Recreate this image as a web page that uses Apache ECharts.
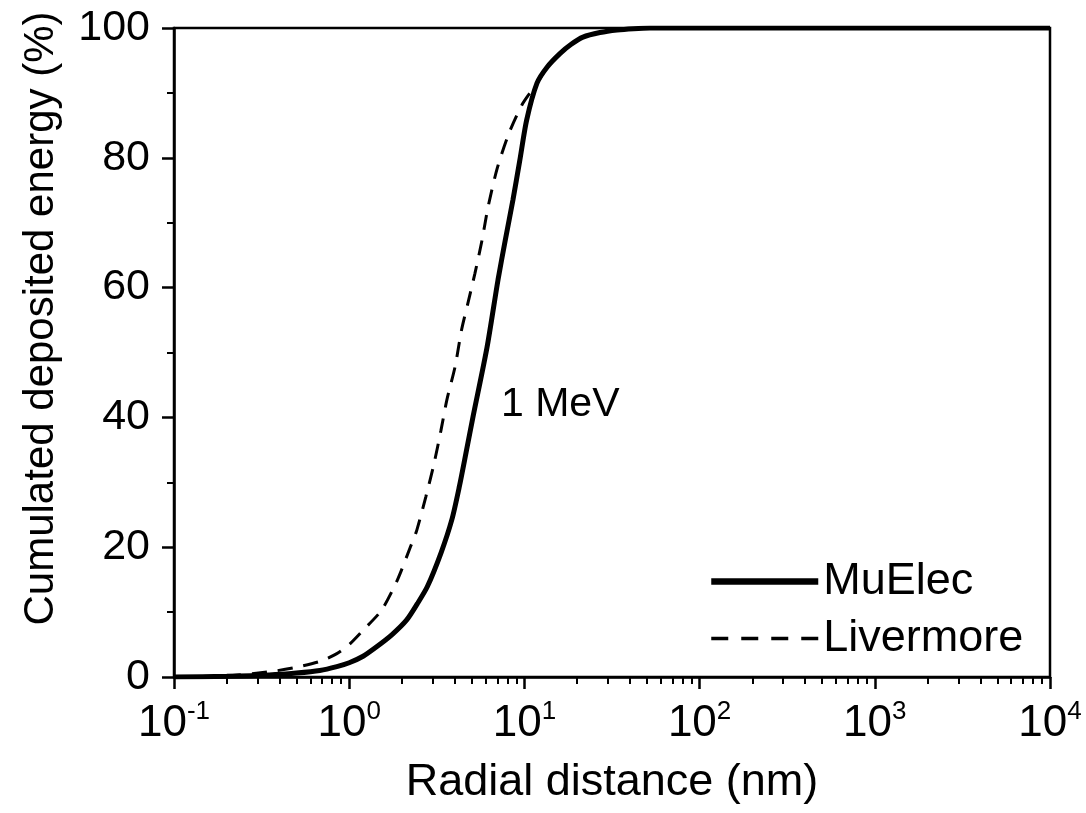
<!DOCTYPE html>
<html><head><meta charset="utf-8">
<script src="https://cdn.jsdelivr.net/npm/echarts@6/dist/echarts.min.js"></script>
<style>html,body{margin:0;padding:0;background:#fff}#c{width:1086px;height:813px}</style>
</head><body><div id="c"></div>
<script>
// Radial distance (nm) and cumulated deposited energy (%)
const muElecX = [0.1, 0.2, 0.35, 0.5, 0.68, 0.85, 1.0, 1.2, 1.44, 1.75, 2.13, 2.45, 2.79, 3.34, 3.85, 4.25, 4.64, 5.1, 6.12, 7.07, 7.8, 8.6, 9.4, 10.3, 11.8, 13.5, 16, 18.5, 21.6, 27, 33.8, 42, 52, 100, 1000, 10000];
const muElecY = [0, 0.1, 0.3, 0.6, 1.0, 1.6, 2.2, 3.2, 4.7, 6.5, 8.8, 11.3, 13.9, 19.1, 24.2, 29.3, 34.5, 40.2, 50.8, 61.2, 67.5, 73.5, 79.5, 85.8, 91.5, 94.0, 96.1, 97.5, 98.6, 99.3, 99.7, 99.9, 100, 100, 100, 100];
const livermoreX = [0.1, 0.2, 0.35, 0.5, 0.68, 0.85, 1.0, 1.2, 1.53, 1.88, 2.24, 2.43, 2.74, 3.05, 3.34, 3.61, 4.02, 4.38, 4.76, 5.22, 5.73, 6.2, 7.0, 8.17, 9.8, 11.8, 13.5, 16, 18.5, 21.6, 27, 33.8, 42, 52, 100, 1000, 10000];
const livermoreY = [0, 0.2, 0.8, 1.5, 2.4, 3.6, 5.0, 7.2, 10.3, 14.9, 20.1, 22.6, 27.8, 32.9, 38.0, 42.7, 47.8, 53.5, 57.6, 62.2, 67.3, 72.4, 78.4, 83.8, 88.4, 91.5, 94.0, 96.1, 97.5, 98.6, 99.3, 99.7, 99.9, 100, 100, 100, 100];
const xMajorTicks = [0.1, 1, 10, 100, 1000, 10000];
const xMinorMultipliers = [2, 3, 4, 5, 6, 7, 8, 9];
const yTicks = [0, 20, 40, 60, 80, 100];
const seriesNames = ['MuElec', 'Livermore'];
const annotation = '1 MeV';
const xTitle = 'Radial distance (nm)';
const yTitle = 'Cumulated deposited energy (%)';

const xMinorTicks = xMajorTicks.slice(0, -1).flatMap(d => xMinorMultipliers.map(m => +(m * d).toPrecision(6)));
const pair = (xs, ys) => xs.map((x, i) => [x, ys[i]]);
const FONT = '"Liberation Sans", Arial, sans-serif';

const chart = echarts.init(document.getElementById('c'), null, {renderer: 'canvas'});
chart.setOption({
  animation: false,
  backgroundColor: '#fff',
  textStyle: {fontFamily: FONT, color: '#000'},
  grid: {left: 174, right: 36, top: 28, bottom: 136, show: true, borderColor: '#000', borderWidth: 2.5, backgroundColor: 'transparent'},
  xAxis: [{
    type: 'log', logBase: 10, min: 0.1, max: 10000, position: 'bottom',
    name: xTitle, nameLocation: 'middle', nameGap: 83,
    nameTextStyle: {fontSize: 45, fontFamily: FONT, color: '#000'},
    axisLine: {show: true, lineStyle: {color: '#000', width: 2.5}},
    axisTick: {show: true, inside: false, length: 12, lineStyle: {color: '#000', width: 2.5}, customValues: xMajorTicks},
    axisLabel: {
      show: true, margin: 25, customValues: xMajorTicks,
      formatter: v => '{b|10}{s|' + Math.round(Math.log10(v)) + '}',
      rich: {
        b: {fontSize: 44, lineHeight: 44, fontFamily: FONT, color: '#000', verticalAlign: 'middle'},
        s: {fontSize: 26, lineHeight: 26, fontFamily: FONT, color: '#000', verticalAlign: 'middle', padding: [0, 0, 25, 0]}
      }
    },
    splitLine: {show: false}, minorTick: {show: false}
  }, {
    type: 'log', logBase: 10, min: 0.1, max: 10000, position: 'bottom', gridIndex: 0,
    axisLine: {show: false},
    axisTick: {show: true, inside: false, length: 7, lineStyle: {color: '#000', width: 2}, customValues: xMinorTicks},
    axisLabel: {show: false}, splitLine: {show: false}
  }],
  yAxis: {
    type: 'value', min: 0, max: 100, interval: 20,
    name: yTitle, nameLocation: 'middle', nameGap: 112,
    nameTextStyle: {fontSize: 42, fontFamily: FONT, color: '#000', padding: [0, 0, 0, 68]},
    axisLine: {show: true, lineStyle: {color: '#000', width: 2.5}},
    axisTick: {show: true, inside: false, length: 12, lineStyle: {color: '#000', width: 2.5}},
    minorTick: {show: true, splitNumber: 2, length: 7, lineStyle: {color: '#000', width: 2}},
    axisLabel: {fontSize: 43, fontFamily: FONT, color: '#000', margin: 24, customValues: yTicks},
    splitLine: {show: false}
  },
  legend: {
    orient: 'vertical', left: 703, top: 554, itemWidth: 107, itemHeight: 14, itemGap: 12,
    data: [
      {name: seriesNames[0], lineStyle: {width: 6.5}},
      {name: seriesNames[1], lineStyle: {width: 3.5, type: [17, 13]}}
    ],
    itemStyle: {opacity: 0},
    lineStyle: {width: 'inherit'},
    textStyle: {fontSize: 45, fontFamily: FONT, color: '#000'}
  },
  graphic: [{
    type: 'text', left: 501, top: 384,
    style: {text: annotation, fontSize: 41, fontFamily: FONT, fill: '#000'}
  }],
  series: [{
    name: seriesNames[0], type: 'line', xAxisIndex: 0, data: pair(muElecX, muElecY),
    showSymbol: false, symbol: 'none', smooth: 0.25,
    lineStyle: {color: '#000', width: 5, type: 'solid'}, itemStyle: {color: '#000'}, z: 3
  }, {
    name: seriesNames[1], type: 'line', xAxisIndex: 0, data: pair(livermoreX, livermoreY),
    showSymbol: false, symbol: 'none', smooth: 0.25,
    lineStyle: {color: '#000', width: 3, type: [15, 11]}, itemStyle: {color: '#000'}, z: 2
  }]
});
</script></body></html>
